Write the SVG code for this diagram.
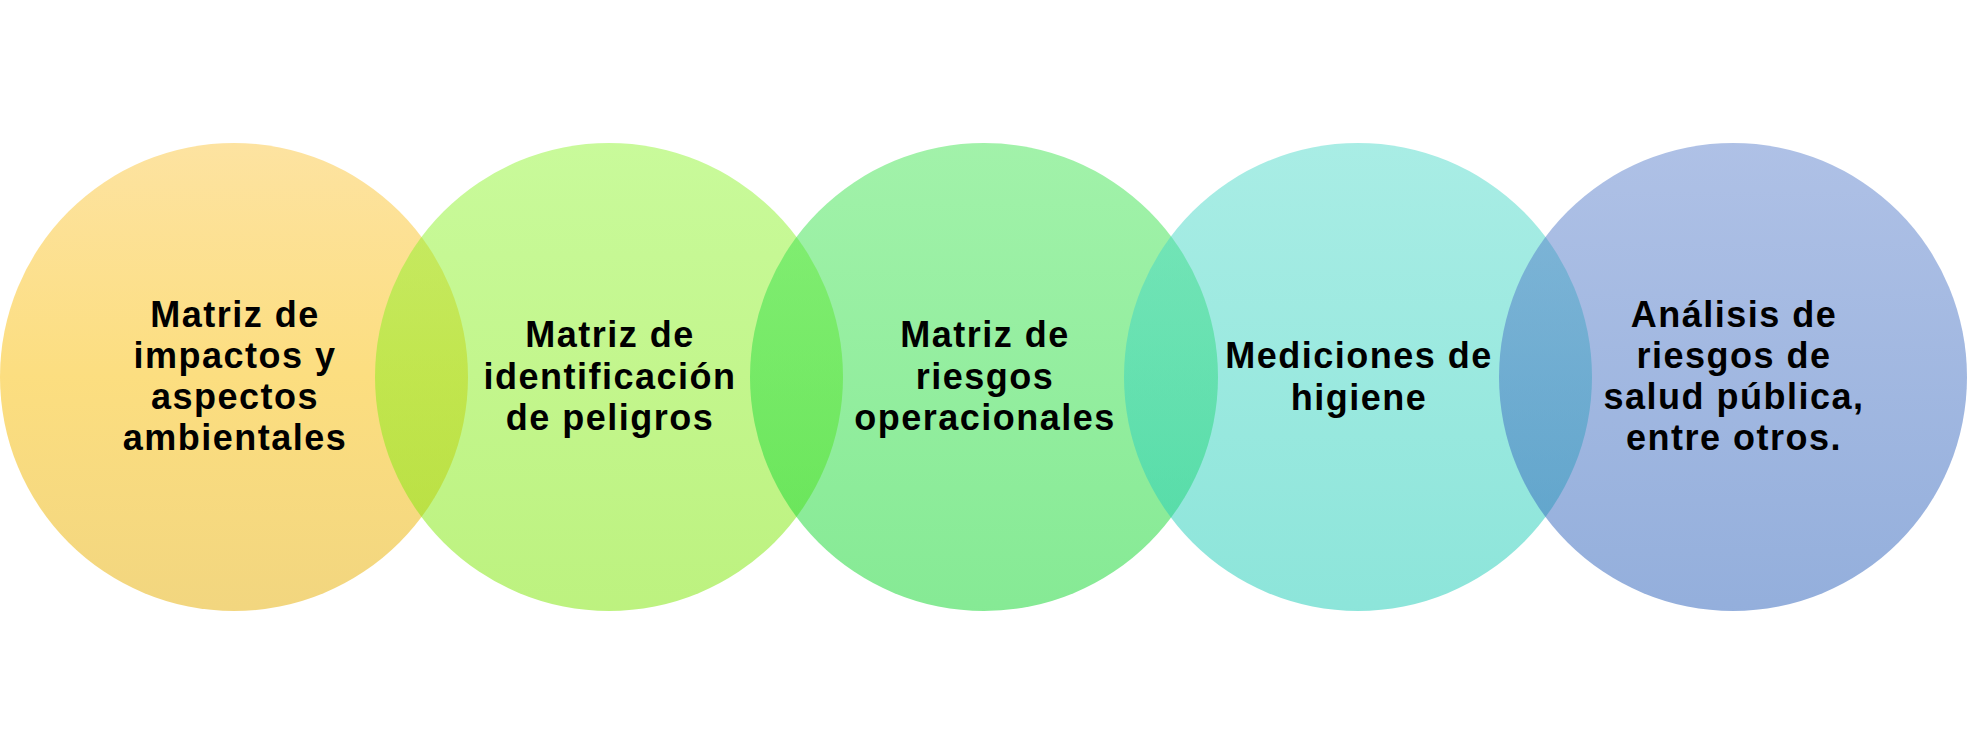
<svg xmlns="http://www.w3.org/2000/svg" width="1968" height="754" viewBox="0 0 1968 754">
  <defs>
    <linearGradient id="g1" x1="0" y1="0" x2="0" y2="1">
      <stop offset="0" stop-color="#FBC743"/>
      <stop offset="0.5" stop-color="#F9BD02"/>
      <stop offset="1" stop-color="#E5AD00"/>
    </linearGradient>
    <linearGradient id="g2" x1="0" y1="0" x2="0" y2="1">
      <stop offset="0" stop-color="#93F537"/>
      <stop offset="1" stop-color="#7BE500"/>
    </linearGradient>
    <linearGradient id="g3" x1="0" y1="0" x2="0" y2="1">
      <stop offset="0" stop-color="#45E555"/>
      <stop offset="1" stop-color="#0DD52B"/>
    </linearGradient>
    <linearGradient id="g4" x1="0" y1="0" x2="0" y2="1">
      <stop offset="0" stop-color="#53DBCB"/>
      <stop offset="1" stop-color="#1BCBB5"/>
    </linearGradient>
    <linearGradient id="g5" x1="0" y1="0" x2="0" y2="1">
      <stop offset="0" stop-color="#5F83CD"/>
      <stop offset="1" stop-color="#295FB9"/>
    </linearGradient>
  </defs>
  <style>
    .c { fill-opacity: 0.5; stroke: none; }
    .t { font-family: "Liberation Sans", Arial, sans-serif; font-weight: 700; font-size: 36px; letter-spacing: 1.5px; fill: #000000; text-anchor: middle; }
  </style>
  <rect x="0" y="0" width="1968" height="754" fill="#FFFFFF"/>
  <g id="connectors"></g>
  <g id="node1">
    <circle class="c" cx="234" cy="377" r="234" fill="url(#g1)"/>
  </g>
  <g id="node2">
    <circle class="c" cx="609" cy="377" r="234" fill="url(#g2)"/>
  </g>
  <g id="node3">
    <circle class="c" cx="984" cy="377" r="234" fill="url(#g3)"/>
  </g>
  <g id="node4">
    <circle class="c" cx="1358" cy="377" r="234" fill="url(#g4)"/>
  </g>
  <g id="node5">
    <circle class="c" cx="1733" cy="377" r="234" fill="url(#g5)"/>
  </g>
  <g id="labels">
    <text class="t" x="235" y="326.5">Matriz de</text>
    <text class="t" x="235" y="367.8">impactos y</text>
    <text class="t" x="235" y="409.1">aspectos</text>
    <text class="t" x="235" y="450.4">ambientales</text>

    <text class="t" x="610" y="347.2">Matriz de</text>
    <text class="t" x="610" y="388.6">identificación</text>
    <text class="t" x="610" y="429.6">de peligros</text>

    <text class="t" x="985" y="347.2">Matriz de</text>
    <text class="t" x="985" y="388.6">riesgos</text>
    <text class="t" x="985" y="429.6">operacionales</text>

    <text class="t" x="1359" y="368.3">Mediciones de</text>
    <text class="t" x="1359" y="409.6">higiene</text>

    <text class="t" x="1734" y="326.5">Análisis de</text>
    <text class="t" x="1734" y="367.8">riesgos de</text>
    <text class="t" x="1734" y="409.1">salud pública,</text>
    <text class="t" x="1734" y="450.4">entre otros.</text>
  </g>
</svg>
